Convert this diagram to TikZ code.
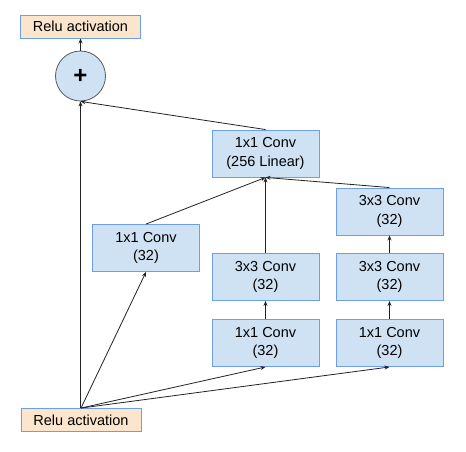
\documentclass[tikz,border=0pt]{standalone}
\usepackage{fontspec}
\setmainfont{Liberation Sans}
\usetikzlibrary{arrows.meta}
\definecolor{boxfill}{HTML}{CFE2F3}
\definecolor{boxline}{HTML}{6D9EEB}
\definecolor{relufill}{HTML}{FCE5CD}
\definecolor{edgecol}{HTML}{222222}
\definecolor{circline}{HTML}{595959}
\begin{document}
\begin{tikzpicture}[x=1pt,y=-1pt,
 conv/.style={draw=boxline, fill=boxfill, line width=0.9pt, minimum width=107pt, minimum height=47pt, align=center, inner sep=0pt, font=\fontsize{14.5}{18.5}\selectfont},
 relu/.style={draw=boxline, fill=relufill, line width=0.9pt, minimum width=120pt, minimum height=23pt, inner sep=0pt, font=\fontsize{14.5}{18}\selectfont},
 addnode/.style={circle, draw=circline, fill=boxfill, minimum size=50pt, inner sep=0pt, line width=0.8pt, font=\fontsize{24}{24}\bfseries},
 arr/.style={-{Stealth[length=5pt,width=4pt]}, line width=0.8pt, draw=edgecol}]
\useasboundingbox (0,0) rectangle (466,451);
\node[relu] (out) at (80.5,26.5) {Relu activation};
\node[addnode] (add) at (80.5,76) {+};
\node[relu] (in) at (81,420) {Relu activation};
\node[conv] (lin) at (265.5,153.5) {1x1 Conv\\(256 Linear)};
\node[conv] (c1) at (146,248) {1x1 Conv\\(32)};
\node[conv] (m3) at (265.5,277) {3x3 Conv\\(32)};
\node[conv] (m1) at (265.5,343) {1x1 Conv\\(32)};
\node[conv] (ra) at (389.5,211.5) {3x3 Conv\\(32)};
\node[conv] (rb) at (389.5,277) {3x3 Conv\\(32)};
\node[conv] (r1) at (389.5,343) {1x1 Conv\\(32)};
\draw[arr] (add.north) -- (out.south);
\draw[arr] (in.north -| add.south) -- (add.south);
\draw[arr] (lin.north) -- (add.south);
\draw[arr] (c1.north) -- (lin.south);
\draw[arr] (m3.north) -- (lin.south);
\draw[arr] (ra.north) -- (lin.south);
\draw[arr] (m1.north) -- (m3.south);
\draw[arr] (rb.north) -- (ra.south);
\draw[arr] (r1.north) -- (rb.south);
\draw[arr] (in.north) -- (c1.south);
\draw[arr] (in.north) -- (m1.south);
\draw[arr] (in.north) -- (r1.south);
\end{tikzpicture}
\end{document}
